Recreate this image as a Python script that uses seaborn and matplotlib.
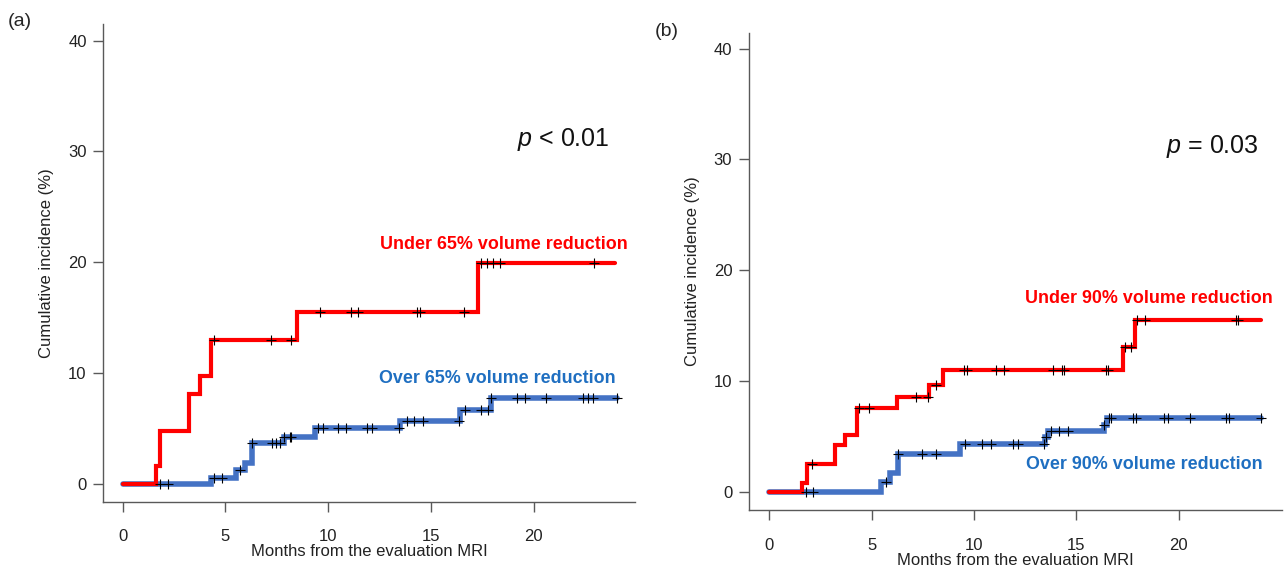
import numpy as np
import pandas as pd
import matplotlib
matplotlib.use("Agg")
import matplotlib.pyplot as plt
import seaborn as sns

# ---- panel (a): 65% volume reduction ----
a_under_t = [0, 1.60, 1.82, 3.21, 3.74, 4.29, 8.46, 17.28, 23.97]
a_under_v = [0, 1.63, 4.82, 8.14, 9.77, 13.03, 15.5, 19.97, 19.97]
a_under_cens = [4.43, 7.2, 8.2, 9.6, 11.1, 11.47, 14.33, 14.46, 16.59,
                17.43, 17.71, 18.0, 18.35, 22.96]

a_over_t = [0, 4.31, 5.52, 5.94, 6.28, 7.87, 9.38, 13.52, 16.42, 17.94, 24.06]
a_over_v = [0, 0.57, 1.27, 1.93, 3.68, 4.28, 5.04, 5.64, 6.7, 7.75, 7.75]
a_over_cens = [1.83, 2.21, 4.43, 4.85, 5.69, 6.28, 7.25, 7.45, 7.65, 7.87,
               8.15, 8.2, 9.5, 9.76, 10.47, 10.89, 11.9, 12.15, 13.45,
               13.83, 14.19, 14.63, 16.35, 16.68, 17.43, 17.77, 17.94,
               19.19, 19.56, 20.62, 22.38, 22.63, 22.88, 24.06]

# ---- panel (b): 90% volume reduction ----
b_under_t = [0, 1.59, 1.85, 3.19, 3.69, 4.27, 6.25, 7.79, 8.5, 17.26, 17.85, 24.02]
b_under_v = [0, 0.81, 2.54, 4.24, 5.13, 7.55, 8.57, 9.64, 10.98, 13.04, 15.52, 15.52]
b_under_cens = [2.09, 4.36, 4.86, 7.16, 7.76, 8.13, 9.5, 9.67, 11.06, 11.48,
                13.83, 14.3, 14.41, 16.43, 16.54, 17.35, 17.68, 17.93, 18.35,
                22.79, 22.88]

b_over_t = [0, 5.45, 5.9, 6.28, 9.3, 13.46, 13.6, 16.34, 16.5, 24.02]
b_over_v = [0, 0.9, 1.7, 3.44, 4.33, 4.93, 5.49, 6.06, 6.67, 6.67]
b_over_cens = [1.8, 2.13, 5.7, 6.28, 7.46, 8.13, 9.55, 10.39, 10.81, 11.9,
               12.15, 13.41, 13.5, 13.75, 14.16, 14.58, 16.34, 16.59, 16.67,
               17.77, 17.9, 19.28, 19.45, 20.53, 22.29, 22.46, 24.02]

RED = "#FF0000"
BLUE_LINE = "#4472C4"
BLUE_TEXT = "#1F6FC1"
GREY = "#595959"

sns.set_style("ticks")
plt.rcParams["font.family"] = ["Liberation Sans", "DejaVu Sans"]
plt.rcParams["mathtext.fontset"] = "custom"
plt.rcParams["mathtext.it"] = "Liberation Sans:italic"
plt.rcParams["mathtext.rm"] = "Liberation Sans"


def step_at(t, times, vals):
    idx = np.searchsorted(times, t, side="right") - 1
    return np.asarray(vals)[idx]


def draw_curve(ax, times, vals, cens, color, lw, z):
    df = pd.DataFrame({"t": times, "v": vals})
    sns.lineplot(data=df, x="t", y="v", drawstyle="steps-post", color=color,
                 linewidth=lw, estimator=None, sort=False, ax=ax, zorder=z,
                 solid_capstyle="round", solid_joinstyle="miter")
    cdf = pd.DataFrame({"t": cens, "v": step_at(np.array(cens), times, vals)})
    sns.scatterplot(data=cdf, x="t", y="v", marker="+", color="black", s=45,
                    linewidth=0.8, ax=ax, zorder=5)


def style_axes(ax, xlim, ylim):
    ax.set_xlim(*xlim)
    ax.set_ylim(*ylim)
    ax.set_xticks([0, 5, 10, 15, 20])
    ax.set_yticks([0, 10, 20, 30, 40])
    for s in ["top", "right"]:
        ax.spines[s].set_visible(False)
    for s in ["left", "bottom"]:
        ax.spines[s].set_color(GREY)
        ax.spines[s].set_linewidth(1.0)
    ax.tick_params(axis="x", length=7, width=1, color=GREY, pad=13,
                   labelsize=12, labelcolor="#222222")
    ax.tick_params(axis="y", length=7, width=1, color=GREY, pad=5,
                   labelsize=12, labelcolor="#222222")
    ax.set_xlabel("Months from the evaluation MRI", fontsize=12,
                  color="#222222", labelpad=0)
    ax.set_ylabel("Cumulative incidence (%)", fontsize=12, color="#222222",
                  labelpad=10)


fig = plt.figure(figsize=(12.84, 5.7), dpi=100)
ax1 = fig.add_axes([0.0805, 0.1198, 0.4140, 0.8381])
ax2 = fig.add_axes([0.5833, 0.1053, 0.4151, 0.8368])

draw_curve(ax1, a_over_t, a_over_v, a_over_cens, BLUE_LINE, 4.0, 2)
draw_curve(ax1, a_under_t, a_under_v, a_under_cens, RED, 3.0, 3)
style_axes(ax1, (-0.94, 24.93), (-1.6, 41.5))
ax1.text(18.54, 21.2, "Under 65% volume reduction", color=RED,
         fontsize=12.9, fontweight="bold", ha="center", va="baseline")
ax1.text(18.25, 9.09, "Over 65% volume reduction", color=BLUE_TEXT,
         fontsize=12.9, fontweight="bold", ha="center", va="baseline")
ax1.text(21.43, 30.5, r"$p$ < 0.01", fontsize=18, ha="center",
         va="baseline", color="#111111")
fig.text(0.006, 0.962, "(a)", fontsize=14, ha="left", va="center")

draw_curve(ax2, b_over_t, b_over_v, b_over_cens, BLUE_LINE, 4.0, 2)
draw_curve(ax2, b_under_t, b_under_v, b_under_cens, RED, 3.0, 3)
style_axes(ax2, (-0.99, 25.03), (-1.62, 41.4))
ax2.text(18.55, 17.08, "Under 90% volume reduction", color=RED,
         fontsize=12.9, fontweight="bold", ha="center", va="baseline")
ax2.text(18.3, 2.05, "Over 90% volume reduction", color=BLUE_TEXT,
         fontsize=12.9, fontweight="bold", ha="center", va="baseline")
ax2.text(21.64, 30.57, r"$p$ = 0.03", fontsize=18, ha="center",
         va="baseline", color="#111111")
fig.text(0.510, 0.944, "(b)", fontsize=14, ha="left", va="center")

fig.savefig("out.png", dpi=100)
